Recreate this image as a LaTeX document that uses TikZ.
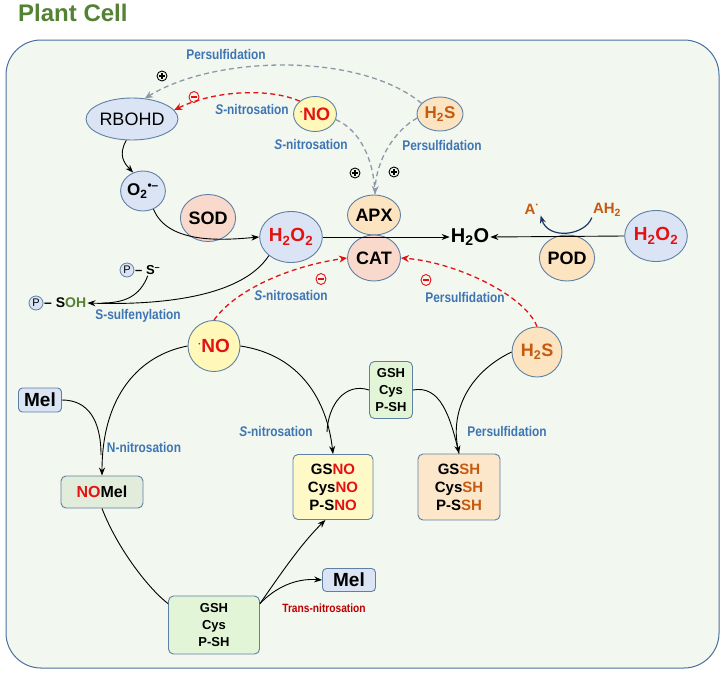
\documentclass[tikz,border=0pt]{standalone}
\usepackage{fontspec}
\setmainfont{Liberation Sans}
\newfontfamily\narrowfont{Liberation Sans}[FakeStretch=0.85]
\usetikzlibrary{shapes.geometric,arrows.meta}
\definecolor{cellbg}{RGB}{242,247,240}
\definecolor{cellborder}{RGB}{74,112,160}
\definecolor{nodeborder}{RGB}{95,128,165}
\definecolor{lblue}{RGB}{218,228,245}
\definecolor{lyellow}{RGB}{255,248,185}
\definecolor{lpeach}{RGB}{252,228,192}
\definecolor{lpink}{RGB}{249,217,203}
\definecolor{lgreen}{RGB}{226,245,214}
\definecolor{lgreengray}{RGB}{226,236,218}
\definecolor{lyellowbox}{RGB}{255,249,200}
\definecolor{lpeachbox}{RGB}{252,231,203}
\definecolor{myred}{RGB}{228,18,18}
\definecolor{myorange}{RGB}{197,90,17}
\definecolor{mygreen}{RGB}{84,130,53}
\definecolor{lblblue}{RGB}{62,117,180}
\definecolor{dashgray}{RGB}{140,152,168}
\definecolor{navy}{RGB}{31,56,100}
\definecolor{transred}{RGB}{192,0,0}
\tikzset{
  ell/.style={ellipse, draw=nodeborder, line width=0.9pt, inner sep=0pt, font=\bfseries\fontsize{18}{18}\selectfont},
  rbox/.style={rectangle, rounded corners=5pt, draw=nodeborder, line width=0.9pt, inner sep=0pt, align=center},
  lbl/.style={text=lblblue, inner sep=0pt, font=\narrowfont\bfseries\fontsize{14}{14}\selectfont},
  arr/.style={-{Stealth[length=8pt,width=6pt]}, line width=0.9pt, draw=black},
  plainline/.style={line width=0.9pt, draw=black},
  gdash/.style={draw=dashgray, dash pattern=on 5pt off 3.5pt, line width=1.3pt, -{Stealth[length=8pt,width=7pt]}},
  rdash/.style={draw=myred, dash pattern=on 5pt off 3.5pt, line width=1.3pt, -{Stealth[length=8pt,width=7pt]}},
  pc/.style={circle, draw=nodeborder, fill=lblue, line width=0.8pt, minimum size=14pt, inner sep=0pt, font=\fontsize{11}{11}\selectfont},
  pluspic/.pic={\draw[line width=0.9pt] (0,0) circle (5);
                \draw[line width=1.1pt] (-3,0) -- (3,0) (0,-3) -- (0,3);},
  minuspic/.pic={\draw[myred, line width=0.9pt] (0,0) ellipse (5 and 5.5);
                 \draw[myred, line width=1.1pt] (-3,0) -- (3,0);}
}
\newcommand{\rdot}{\raisebox{5pt}{\fontsize{10}{10}\selectfont ·}}
\begin{document}
\begin{tikzpicture}[x=1pt,y=-1pt]
\fill[white] (0,0) rectangle (727,680);
\useasboundingbox (0,0) rectangle (727,680);
% title
\node[anchor=base west, inner sep=0pt, text=mygreen, font=\bfseries\fontsize{24}{24}\selectfont] (title) at (18,21) {Plant Cell};
% cell
\draw[fill=cellbg, draw=cellborder, line width=1pt, rounded corners=35pt] (6,40) rectangle (719,668);

% ---------- nodes ----------
\node[ell, fill=lblue, minimum width=90pt, minimum height=42pt, font=\fontsize{18}{18}\selectfont] (rbohd) at (132,119) {RBOHD};
\node[ell, fill=lblue, minimum width=44pt, minimum height=40pt, font=\bfseries\fontsize{17}{17}\selectfont] (o2) at (143,191) {O\textsubscript{2}\textsuperscript{•–}};
\node[ell, fill=lpink, minimum width=53pt, minimum height=47pt] (sod) at (208,218) {SOD};
\node[ell, fill=lblue, minimum width=52pt, minimum height=51pt, text=myred, font=\bfseries\fontsize{19}{19}\selectfont] (h2o2a) at (291,237) {H\textsubscript{2}O\textsubscript{2}};
\node[ell, fill=lpeach, minimum width=53pt, minimum height=40pt] (apx) at (374,215) {APX};
\node[ell, fill=lpink, minimum width=53pt, minimum height=46pt] (cat) at (374,258) {CAT};
\node[inner sep=1pt, font=\bfseries\fontsize{20}{20}\selectfont] (h2o) at (470,237) {H\textsubscript{2}O};
\node[ell, fill=lblue, minimum width=53pt, minimum height=51pt, text=myred, font=\bfseries\fontsize{19}{19}\selectfont] (h2o2b) at (656,236) {H\textsubscript{2}O\textsubscript{2}};
\node[ell, fill=lpeach, minimum width=53pt, minimum height=46pt] (pod) at (567,258) {POD};
\node[inner sep=1pt, text=myorange, font=\bfseries\fontsize{15}{15}\selectfont] (adot) at (532,209) {A\textsuperscript{·}};
\node[inner sep=1pt, text=myorange, font=\bfseries\fontsize{15}{15}\selectfont] (ah2) at (607,210) {AH\textsubscript{2}};

\node[ell, fill=lyellow, minimum width=40pt, minimum height=35pt, text=myred] (noT) at (315,114) {\rdot NO};
\node[ell, fill=lpeach, minimum width=46pt, minimum height=34pt, text=myorange, font=\bfseries\fontsize{17}{17}\selectfont] (h2sT) at (440,114) {H\textsubscript{2}S};
\node[ell, fill=lyellow, minimum width=52pt, minimum height=51pt, text=myred, font=\bfseries\fontsize{19}{19}\selectfont] (noB) at (214,346) {\rdot NO};
\node[ell, fill=lpeach, minimum width=50pt, minimum height=50pt, text=myorange, font=\bfseries\fontsize{18}{18}\selectfont] (h2sB) at (537,352) {H\textsubscript{2}S};

\node[rbox, fill=lgreen, minimum width=43pt, minimum height=57pt, font=\bfseries\fontsize{13}{17}\selectfont] (gshM) at (391,390) {GSH\\Cys\\P-SH};
\node[rbox, fill=lyellowbox, minimum width=80pt, minimum height=65pt, font=\bfseries\fontsize{15}{18}\selectfont] (gsno) at (333,487) {GS\textcolor{myred}{NO}\\Cys\textcolor{myred}{NO}\\P-S\textcolor{myred}{NO}};
\node[rbox, fill=lpeachbox, minimum width=82pt, minimum height=66pt, font=\bfseries\fontsize{15}{18}\selectfont] (gssh) at (459,487) {GS\textcolor{myorange}{SH}\\Cys\textcolor{myorange}{SH}\\P-S\textcolor{myorange}{SH}};
\node[rbox, fill=lblue, rounded corners=4pt, minimum width=43pt, minimum height=24pt, font=\bfseries\fontsize{19}{19}\selectfont] (melA) at (40,400) {Mel};
\node[rbox, fill=lgreengray, minimum width=82pt, minimum height=32pt, font=\bfseries\fontsize{16}{16}\selectfont] (nomel) at (102,492) {\textcolor{myred}{NO}Mel};
\node[rbox, fill=lgreen, minimum width=91pt, minimum height=58pt, font=\bfseries\fontsize{13}{17}\selectfont] (gshB) at (214,625) {GSH\\Cys\\P-SH};
\node[rbox, fill=lblue, rounded corners=4pt, minimum width=53pt, minimum height=23pt, font=\bfseries\fontsize{19}{19}\selectfont] (melB) at (349,580) {Mel};

% P-S- and P-SOH
\node[pc] (p1) at (127,270) {P};
\node[anchor=west, inner sep=1pt, font=\bfseries\fontsize{13}{13}\selectfont] (ps) at (134,270) {– S\textsuperscript{–}};
\node[pc] (p2) at (36,303) {P};
\node[anchor=west, inner sep=1pt, font=\bfseries\fontsize{14}{14}\selectfont] (psoh) at (43,303) {– S\textcolor{mygreen}{OH}};

% ---------- labels ----------
\node[lbl] (lPersTop) at (226,54) {Persulfidation};
\node[lbl] (lSnTop) at (252,109) {\textit{S}-nitrosation};
\node[lbl] (lSnNO) at (311,144) {\textit{S}-nitrosation};
\node[lbl] (lPersH2S) at (442,145) {Persulfidation};
\node[lbl] (lSsulf) at (138,316) {S-sulfenylation};
\node[lbl] (lSnCAT) at (291,295) {\textit{S}-nitrosation};
\node[lbl] (lPersCAT) at (465,297) {Persulfidation};
\node[lbl] (lNn) at (144,447) {N-nitrosation};
\node[lbl] (lSnGS) at (276,431) {\textit{S}-nitrosation};
\node[lbl] (lPersGS) at (507,431) {Persulfidation};
\node[lbl, text=transred, font=\narrowfont\bfseries\fontsize{12}{12}\selectfont] (lTrans) at (324,608) {Trans-nitrosation};

\pic at (162,76) {pluspic};
\pic at (355,173) {pluspic};
\pic at (394,172) {pluspic};
\pic at (194,97) {minuspic};
\pic at (321,279) {minuspic};
\pic at (426,280) {minuspic};

% ---------- connectors ----------
% top dashed
\draw[gdash] (h2sT.150) .. controls (360,52) and (215,55) .. (rbohd.58);
\draw[rdash] (noT.140) .. controls (270,88) and (215,90) .. (rbohd.12);
\coordinate (apxin) at (375,194);
\draw[gdash, -] (noT.-15) .. controls (360,130) and (374,160) .. (apxin);
\draw[gdash] (h2sT.190) .. controls (395,130) and (376,160) .. (apxin);

% RBOHD -> O2 -> H2O2
\draw[arr] (rbohd.255) .. controls (118,155) and (124,163) .. (o2.118);
\draw[arr] (o2.-60) .. controls (168,245) and (225,240) .. (h2o2a.west);
% H2O2 -> P-SOH
\draw[arr] (h2o2a.220) .. controls (240,300) and (150,305) .. (psoh.east);
\coordinate (psjoin) at (102,303);
\draw[plainline] (ps.south) .. controls (140,296) and (125,303) .. (psjoin);

% H2O2 -> H2O
\draw[arr] (h2o2a.east) -- (h2o.west);
\draw[arr] (h2o2b.west) -- (h2o.east);
\draw[-{Stealth[length=8pt,width=6pt]}, line width=1.2pt, draw=navy] (ah2.south west) .. controls (585,236) and (548,240) .. (adot.south east);

% CAT inhibitions
\draw[rdash] (noB.north) .. controls (235,290) and (290,266) .. (cat.west);
\draw[rdash] (h2sB.north) .. controls (525,295) and (455,262) .. (cat.east);

% NO lower branches
\draw[arr] (noB.west) .. controls (140,355) and (102,395) .. (nomel.north);
\coordinate (meljoin) at (101,455);
\draw[plainline] (melA.east) .. controls (88,400) and (101,420) .. (meljoin);
\draw[arr] (noB.east) .. controls (300,355) and (327,400) .. (gsno.north);
\coordinate (gsnojoin) at (327,432);
\draw[plainline] (gshM.west) .. controls (345,382) and (328,405) .. (gsnojoin);
\draw[plainline] (gshM.east) .. controls (440,385) and (450,415) .. (gssh.north);
\draw[arr] (h2sB.west) .. controls (470,372) and (450,410) .. (gssh.north);

% trans-nitrosation
\draw[plainline] (nomel.south) .. controls (118,550) and (150,590) .. (gshB.155);
\draw[arr] (gshB.25) .. controls (280,575) and (300,545) .. (gsno.-103);
\draw[arr] (gshB.25) .. controls (275,588) and (295,578) .. (melB.west);
\end{tikzpicture}
\end{document}
